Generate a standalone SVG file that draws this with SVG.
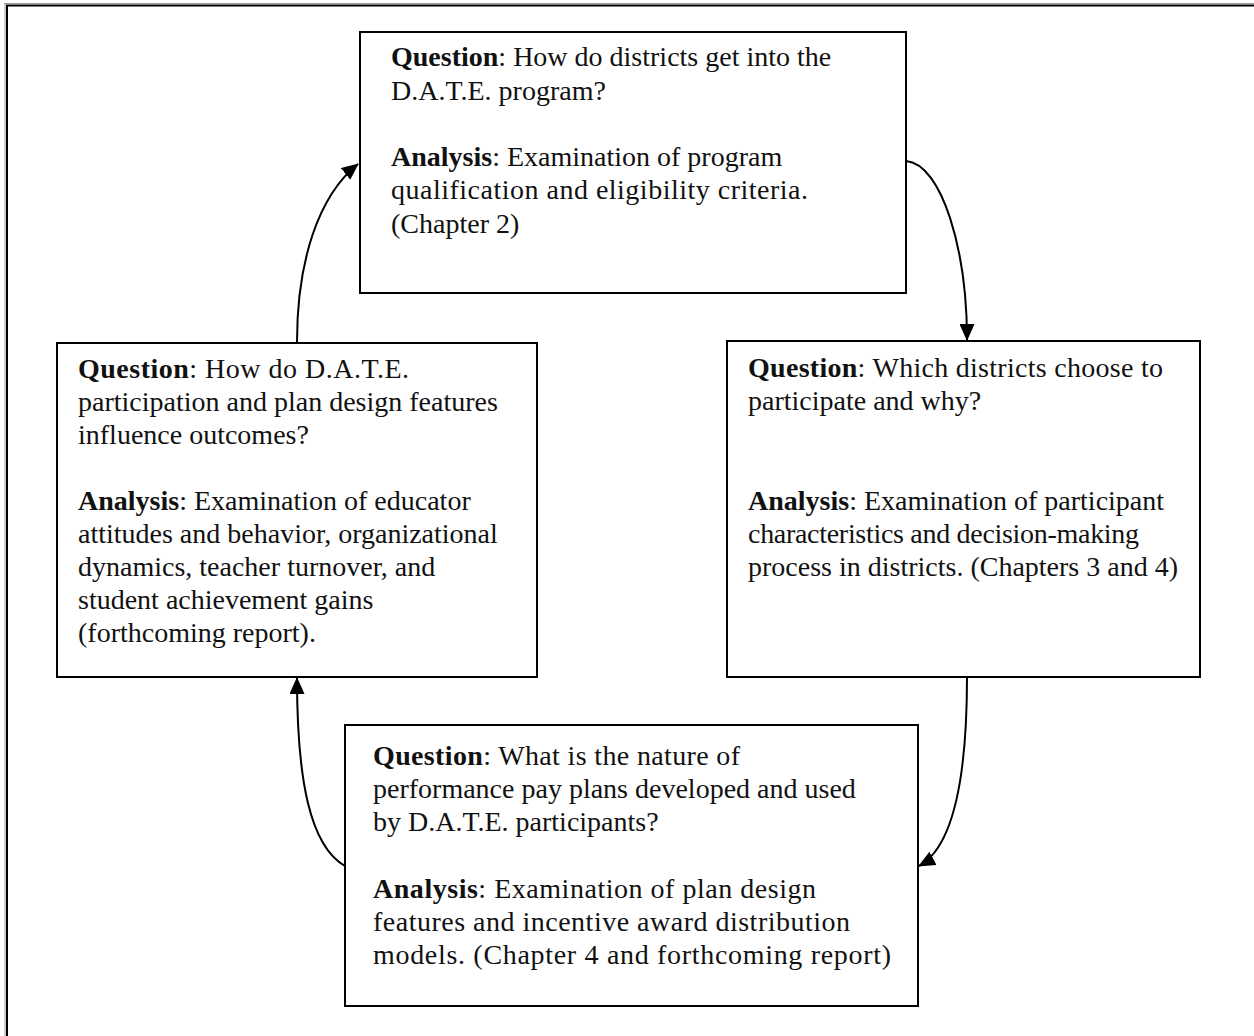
<svg xmlns="http://www.w3.org/2000/svg" width="1254" height="1036" viewBox="0 0 1254 1036">
<style>
.box{fill:#fff;stroke:#000;stroke-width:2}
.t{font-family:"Liberation Serif","Times New Roman",serif;font-size:28px;fill:#111}
.b{font-weight:bold}
.c{fill:none;stroke:#000;stroke-width:2}
</style>
<defs>
<marker id="ah" markerUnits="userSpaceOnUse" markerWidth="17" markerHeight="15" refX="16" refY="7.5" orient="auto">
<path d="M0,0 L17,7.5 L0,15 Z" fill="#000"/>
</marker>
</defs>
<rect width="1254" height="1036" fill="#fff"/>
<g id="frame">
<line x1="4" y1="3.5" x2="1254" y2="3.5" stroke="#999" stroke-width="1"/>
<line x1="5" y1="3.5" x2="5" y2="1036" stroke="#999" stroke-width="1"/>
<line x1="6" y1="5.5" x2="1254" y2="5.5" stroke="#000" stroke-width="2"/>
<line x1="7" y1="5" x2="7" y2="1036" stroke="#000" stroke-width="2"/>
</g>
<g id="connectors">
<path class="c" d="M297,342 C297,262 318,196 358,164" marker-end="url(#ah)"/>
<path class="c" d="M906,161 C942,164 967,250 967,340" marker-end="url(#ah)"/>
<path class="c" d="M967,677 C967,780 952,848 919,866" marker-end="url(#ah)"/>
<path class="c" d="M345,866 C310,846 297,780 297,678" marker-end="url(#ah)"/>
</g>
<g id="node-top">
<rect class="box" x="360" y="32" width="546" height="261"/>
<text class="t" x="391" y="66"><tspan class="b">Question</tspan>: How do districts get into the</text>
<text class="t" x="391" y="100">D.A.T.E. program?</text>
<text class="t" x="391" y="166"><tspan class="b">Analysis</tspan>: Examination of program</text>
<text class="t" x="391" y="199" textLength="417" lengthAdjust="spacing">qualification and eligibility criteria.</text>
<text class="t" x="391" y="233">(Chapter 2)</text>
</g>
<g id="node-right">
<rect class="box" x="727" y="341" width="473" height="336"/>
<text class="t" x="748" y="377" textLength="415" lengthAdjust="spacing"><tspan class="b">Question</tspan>: Which districts choose to</text>
<text class="t" x="748" y="410">participate and why?</text>
<text class="t" x="748" y="510"><tspan class="b">Analysis</tspan>: Examination of participant</text>
<text class="t" x="748" y="543" textLength="391" lengthAdjust="spacing">characteristics and decision-making</text>
<text class="t" x="748" y="576">process in districts. (Chapters 3 and 4)</text>
</g>
<g id="node-bottom">
<rect class="box" x="345" y="725" width="573" height="281"/>
<text class="t" x="373" y="765" textLength="367" lengthAdjust="spacing"><tspan class="b">Question</tspan>: What is the nature of</text>
<text class="t" x="373" y="798">performance pay plans developed and used</text>
<text class="t" x="373" y="831">by D.A.T.E. participants?</text>
<text class="t" x="373" y="898" textLength="443" lengthAdjust="spacing"><tspan class="b">Analysis</tspan>: Examination of plan design</text>
<text class="t" x="373" y="931" textLength="477" lengthAdjust="spacing">features and incentive award distribution</text>
<text class="t" x="373" y="964" textLength="518" lengthAdjust="spacing">models. (Chapter 4 and forthcoming report)</text>
</g>
<g id="node-left">
<rect class="box" x="57" y="343" width="480" height="334"/>
<text class="t" x="78" y="378" textLength="331" lengthAdjust="spacing"><tspan class="b">Question</tspan>: How do D.A.T.E.</text>
<text class="t" x="78" y="411">participation and plan design features</text>
<text class="t" x="78" y="444">influence outcomes?</text>
<text class="t" x="78" y="510"><tspan class="b">Analysis</tspan>: Examination of educator</text>
<text class="t" x="78" y="543">attitudes and behavior, organizational</text>
<text class="t" x="78" y="576">dynamics, teacher turnover, and</text>
<text class="t" x="78" y="609">student achievement gains</text>
<text class="t" x="78" y="642">(forthcoming report).</text>
</g>
</svg>
